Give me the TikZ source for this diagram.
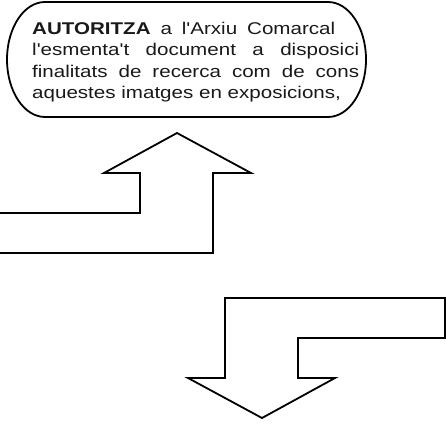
\documentclass[tikz,border=0pt]{standalone}
\usepackage{fontspec}
\newfontfamily\boxfont{Liberation Sans}[FakeStretch=1.21]
\tikzset{
    outline/.style={draw=black,line width=1.8pt,line join=miter},
    boxline/.style={anchor=base west,inner sep=0pt,text=black!90,
        font=\boxfont\fontsize{17}{21.5}\selectfont}
}
\begin{document}
\begin{tikzpicture}[x=1pt,y=-1pt]
    \useasboundingbox (0,0) rectangle (446,427);

    % Rounded box with the text
    \draw[outline] (45,2) -- (328,2)
        arc[start angle=270,end angle=450,x radius=38,y radius=57.5]
        -- (45,117)
        arc[start angle=90,end angle=270,x radius=38,y radius=57.5]
        -- cycle;

    \node (line1) [boxline] at (32,34.7)
        {\makebox[303pt][s]{\textbf{AUTORITZA} a l'Arxiu Comarcal}};
    \node (line2) [boxline] at (32,56)
        {\makebox[327pt][s]{l'esmenta't document a disposici}};
    \node (line3) [boxline] at (32,77.5)
        {\makebox[327pt][s]{finalitats de recerca com de cons}};
    \node (line4) [boxline] at (32,99)
        {aquestes imatges en exposicions,};

    % Arrow going up
    \draw[outline] (0,213) -- (140,213) -- (140,173) -- (104,173)
        -- (177,133) -- (251,173) -- (213,173) -- (213,253) -- (0,253);

    % Arrow going down
    \draw[outline] (225,298) -- (445,298) -- (445,338) -- (298,338)
        -- (298,378) -- (335,378) -- (262,418) -- (188,378)
        -- (225,378) -- cycle;

\end{tikzpicture}
\end{document}
